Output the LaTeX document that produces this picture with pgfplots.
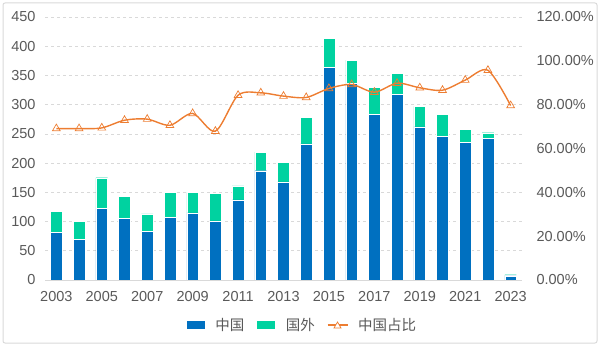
\documentclass[border=0pt]{standalone}
\usepackage{pgfplots}
\pgfplotsset{compat=1.18}
\usepackage{pgfplotstable}
\usepackage{fontspec}
\setmainfont{Liberation Sans}
\newfontfamily\cjk{Noto Sans CJK SC}
\definecolor{cnblue}{RGB}{0,112,192}
\definecolor{frteal}{RGB}{0,210,160}
\definecolor{lnorange}{RGB}{237,125,49}
\definecolor{txtgray}{RGB}{89,89,89}
\definecolor{gridgray}{RGB}{217,217,217}
\pgfplotstableread{
year china foreign ratio
2003 81 36 69.1
2004 70 30 69.1
2005 122 53 69.4
2006 105 38 72.9
2007 83 30 73.4
2008 107 43 70.6
2009 115 35 76.0
2010 101 47 67.9
2011 137 24 84.3
2012 187 32 85.4
2013 168 33 83.9
2014 233 45 83.3
2015 364 50 87.4
2016 336 40 89.2
2017 284 46 85.7
2018 318 36 89.8
2019 262 35 87.7
2020 246 38 86.6
2021 235 23 91.2
2022 242 10 95.7
2023 7 2 79.6
}\datatable
\begin{document}
\begin{tikzpicture}[x=1pt,y=1pt]
\path[use as bounding box] (0,0) rectangle (600,346);
\draw[gridgray, line width=1pt, rounded corners=2pt] (3,3) rectangle (597,343);
\begin{axis}[
  at={(45pt,66pt)}, anchor=south west,
  scale only axis, width=477pt, height=263pt,
  xmin=2002.5, xmax=2023.5,
  ymin=0, ymax=450,
  ytick={0,50,...,450},
  xtick={2003,2005,...,2023},
  /pgf/number format/assume math mode=true,
  /pgf/number format/set thousands separator={},
  ybar stacked, bar width=11.7pt,
  axis line style={draw=none},
  axis x line*=bottom, axis y line*=left,
  tick style={draw=none},
  ymajorgrids, grid style={gridgray, dashed, line width=0.6pt},
  tick label style={font=\fontsize{14.5}{16}\selectfont, text=txtgray},
  yticklabel style={xshift=-6pt},
  xticklabel style={yshift=-8pt},
  legend style={at={(0.539,-0.171)}, anchor=center, draw=none,
    font=\cjk\fontsize{14.5}{16}\selectfont, text=txtgray,
    legend columns=3, column sep=8pt, /tikz/every even column/.append style={column sep=10pt}},
  legend image code/.code={\fill[#1] (0pt,-4.5pt) rectangle (19pt,4.5pt);},
]
\draw[gridgray, line width=1pt] (rel axis cs:0,0) -- (rel axis cs:1,0);
\addplot[fill=cnblue, draw=white, line width=0.4pt] table[x=year,y=china]{\datatable};
\addlegendentry{中国}
\addplot[fill=frteal, draw=white, line width=0.4pt] table[x=year,y=foreign]{\datatable};
\addlegendentry{国外}
\addlegendimage{legend image code/.code={
  \draw[lnorange, line width=1.4pt] (0pt,0pt) -- (20pt,0pt);
  \draw[lnorange, fill=white, line width=0.7pt] (10pt,0pt) ++(-3.5pt,-3pt) -- ++(7pt,0) -- ++(-3.5pt,6pt) -- cycle;}}
\addlegendentry{中国占比}
\end{axis}
\begin{axis}[
  at={(45pt,66pt)}, anchor=south west,
  scale only axis, width=477pt, height=263pt,
  xmin=2002.5, xmax=2023.5,
  ymin=0, ymax=120,
  ytick={0,20,...,120},
  axis x line=none, axis y line*=right,
  axis line style={draw=none},
  tick style={draw=none},
  /pgf/number format/assume math mode=true,
  yticklabel={\pgfmathprintnumber[fixed, fixed zerofill, precision=2]{\tick}\%},
  tick label style={font=\fontsize{14.5}{16}\selectfont, text=txtgray},
  yticklabel style={xshift=11pt},
]
\addplot[lnorange, line width=1.4pt, smooth, tension=0.5,
  mark=triangle, mark size=4.5pt,
  mark options={fill=white, draw=lnorange, line width=0.7pt, solid}]
  table[x=year,y=ratio]{\datatable};
\end{axis}
\end{tikzpicture}
\end{document}
